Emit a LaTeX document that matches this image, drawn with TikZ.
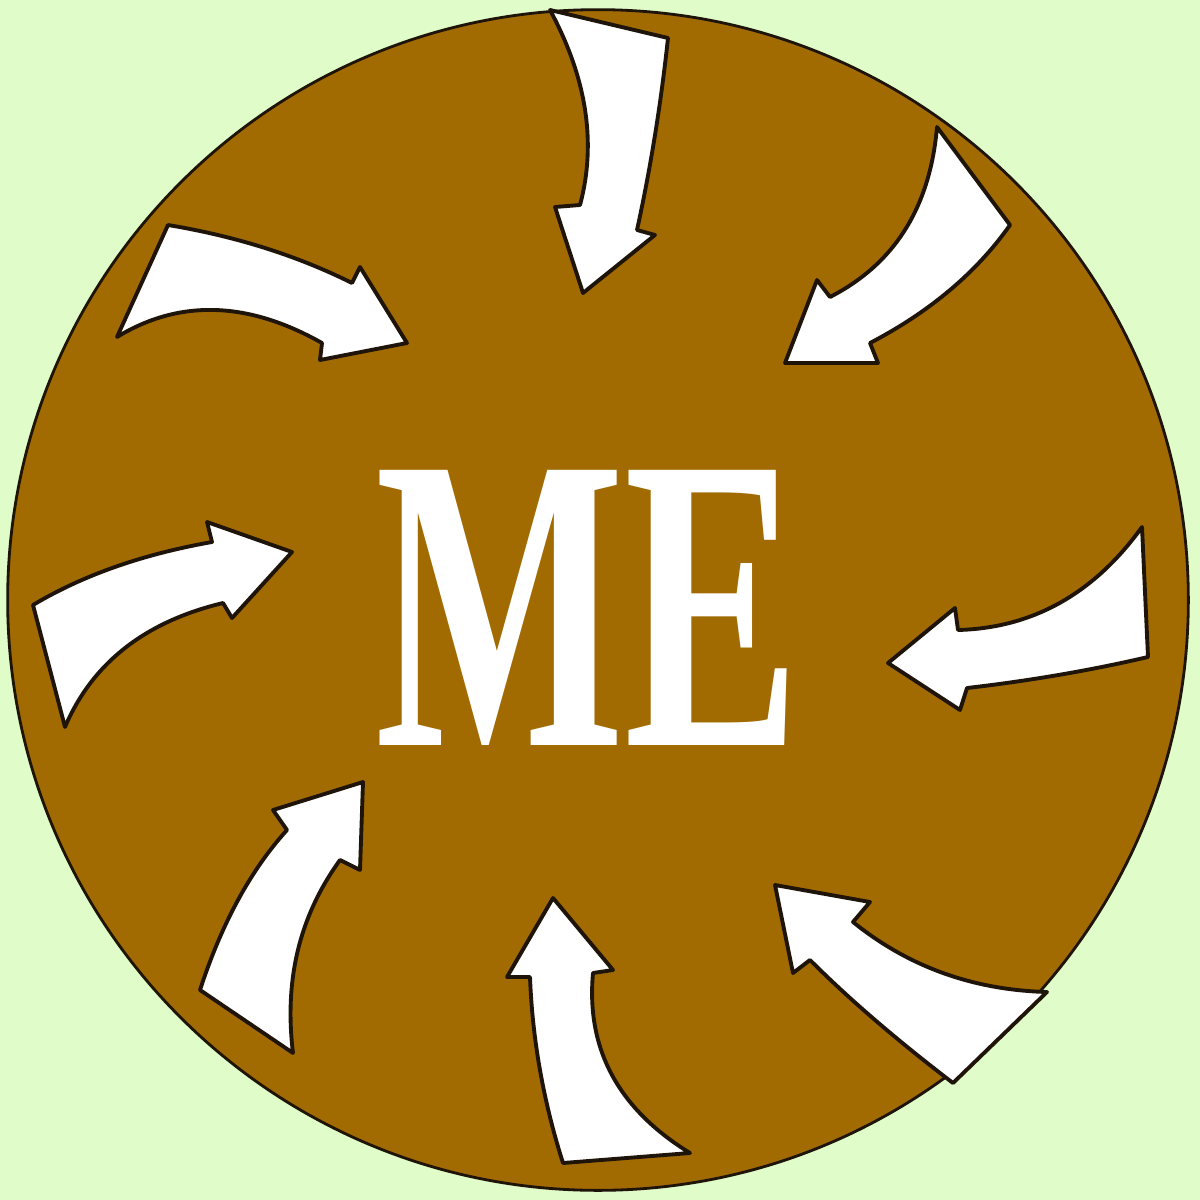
\documentclass[tikz,border=0pt]{standalone}
\usepackage{fontspec}
\setmainfont{Liberation Serif}
\definecolor{bg}{RGB}{224,252,200}
\definecolor{brown}{RGB}{162,107,2}
\definecolor{edge}{RGB}{30,20,10}
\begin{document}
\begin{tikzpicture}[x=0.01cm,y=-0.01cm,
  arr/.style={fill=white,draw=edge,line width=1.1pt,line join=round}]
\fill[bg] (0,0) rectangle (1200,1200);
\useasboundingbox (0,0) rectangle (1200,1200);
\draw[fill=brown,draw=edge,line width=0.8pt] (598,600) circle[radius=5.9cm];
% top
\draw[arr] (583,293) -- (655,235) -- (637,230) .. controls (650.7,167.3) and (661,103.3) .. (668,38) -- (550,10) .. controls (586.7,78) and (596.7,143) .. (580,205) -- (555,207) -- cycle;
% top right
\draw[arr] (785,363) -- (878,363) -- (870,343) .. controls (930,311.7) and (976.7,272.3) .. (1010,225) -- (937,127) .. controls (930,207.7) and (894.3,264) .. (830,297) -- (817,280) -- cycle;
% top left
\draw[arr] (407,343) -- (320,360) -- (322,343) .. controls (247.7,301) and (179.3,299) .. (117,337) -- (168,225) .. controls (236,236.3) and (297.3,255.7) .. (352,283) -- (360,267) -- cycle;
% right
\draw[arr] (888,663) -- (960,710) -- (967,688) .. controls (1030.3,680.7) and (1090.7,670.3) .. (1148,657) -- (1142,527) .. controls (1094,593.7) and (1032.7,628) .. (958,630) -- (955,608) -- cycle;
% bottom right
\draw[arr] (775,885) -- (870,902) -- (853,922) .. controls (908.3,966.7) and (973,990) .. (1047,992) -- (953,1083) .. controls (896.3,1039.7) and (848.7,998.7) .. (810,960) -- (793,973) -- cycle;
% bottom
\draw[arr] (553,898) -- (613,970) -- (593,973) .. controls (586,1049) and (618.3,1109) .. (690,1153) -- (563,1163) .. controls (543.3,1101) and (532.3,1039) .. (530,977) -- (507,977) -- cycle;
% bottom left
\draw[arr] (363,782) -- (360,870) -- (340,860) .. controls (299.7,915.7) and (284,979.3) .. (293,1053) -- (200,990) .. controls (221.7,923.3) and (250.7,870) .. (287,830) -- (273,810) -- cycle;
% left
\draw[arr] (292,552) -- (232,618) -- (223,603) .. controls (145,621.7) and (92.3,663) .. (65,727) -- (33,605) .. controls (82.7,575.3) and (142.3,554.3) .. (212,542) -- (207,522) -- cycle;
\node[text=white,inner sep=0pt] (me) at (588,608) {\resizebox{4.25cm}{2.75cm}{\bfseries ME}};
\end{tikzpicture}
\end{document}
